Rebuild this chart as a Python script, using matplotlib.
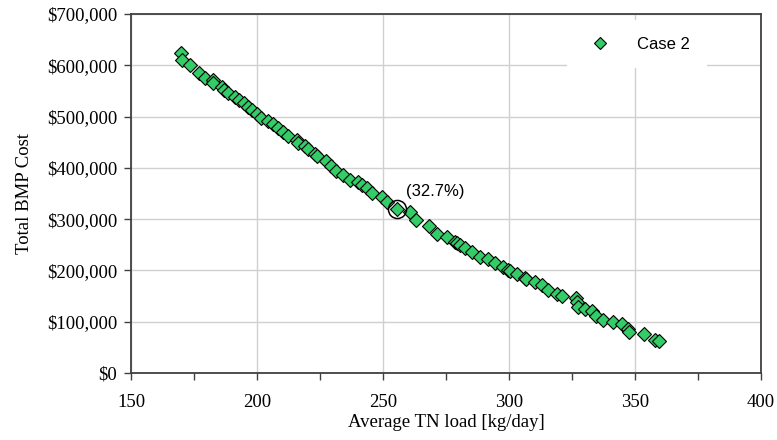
import numpy as np
from matplotlib import pyplot as plt
from matplotlib.ticker import FuncFormatter, MultipleLocator

# average TN load [kg/day] vs total BMP cost [$] for Case 2
tn_load = [169.8, 170.4, 173.4, 177.1, 179.4, 182.4, 182.5, 186.0, 186.9, 188.5,
           191.3, 193.0, 194.8, 196.5, 197.9, 200.1, 201.6, 204.5, 206.5, 208.5,
           210.2, 212.4, 215.7, 216.1, 219.0, 220.4, 223.0, 224.0, 227.3, 229.3,
           231.3, 234.2, 237.0, 240.2, 241.5, 243.5, 245.5, 249.5, 251.5, 255.4,
           260.7, 263.0, 268.3, 271.3, 275.3, 278.6, 279.4, 280.6, 282.5, 285.2,
           288.5, 291.8, 294.4, 297.7, 299.7, 300.5, 303.0, 306.3, 306.9, 310.3,
           313.0, 315.6, 318.9, 320.9, 326.5, 326.9, 327.3, 330.2, 332.8, 334.6,
           337.4, 341.4, 344.7, 347.3, 347.8, 353.6, 358.0, 359.5]
bmp_cost = [625, 611, 600, 586, 575, 571, 565, 558, 552, 546,
            539, 532, 527, 519, 513, 506, 498, 492, 485, 477,
            470, 462, 454, 448, 442, 436, 428, 424, 413, 403,
            394, 386, 376, 373, 366, 360, 351, 344, 334, 319,
            314, 298, 287, 272, 266, 256, 254, 250, 243, 236,
            227, 222, 214, 207, 201, 198, 194, 185, 183, 178,
            172, 162, 155, 150, 146, 139, 129, 124, 120, 112,
            104, 100, 95, 85, 80, 76, 65, 62]
bmp_cost = np.array(bmp_cost) * 1000

# highlighted solution
pick_load = 255.4
pick_cost = 319000
pick_label = '(32.7%)'

fig = plt.figure(figsize=(7.77, 4.40), dpi=100)
ax = fig.add_axes([0.1686, 0.1523, 0.8108, 0.8157])

ax.plot(tn_load, bmp_cost, linestyle='none', marker='D', markersize=7.5,
        markerfacecolor='#33CC66', markeredgecolor='black', markeredgewidth=0.8,
        label='Case 2', zorder=3)
ax.plot([pick_load], [pick_cost], linestyle='none', marker='o', markersize=13,
        markerfacecolor='none', markeredgecolor='black', markeredgewidth=1.1, zorder=4)
ax.annotate(pick_label, (pick_load, pick_cost), xytext=(7, 10), textcoords='offset points',
            fontsize=12, family='Liberation Sans')

ax.set_xlim(150, 400)
ax.set_ylim(0, 700000)
ax.set_xticks(np.arange(150, 401, 50))
ax.xaxis.set_minor_locator(MultipleLocator(25))
ax.set_yticks(np.arange(0, 700001, 100000))
ax.yaxis.set_major_formatter(FuncFormatter(lambda v, p: '${:,.0f}'.format(v)))

ax.grid(True, color='#D0D0D0', linewidth=1.0)
ax.set_axisbelow(True)
for s in ax.spines.values():
    s.set_color('#404040')
    s.set_linewidth(1.3)
ax.tick_params(which='both', direction='out', length=5, width=1, color='#404040')
ax.tick_params(labelsize=13.5, labelfontfamily='Liberation Serif')
ax.tick_params(axis='x', pad=10)
ax.tick_params(axis='y', pad=5)

ax.set_xlabel('Average TN load [kg/day]', fontsize=13.5, family='Liberation Serif', labelpad=2)
ax.set_ylabel('Total BMP Cost', fontsize=13.5, family='Liberation Serif', labelpad=10)

leg = ax.legend(loc='center', bbox_to_anchor=(0.803, 0.916), frameon=True,
                facecolor='white', edgecolor='none', framealpha=1, fancybox=False,
                prop={'family': 'Liberation Sans', 'size': 12},
                handletextpad=1.2, borderpad=1.0, markerscale=0.8)

fig.savefig('out.png', dpi=100)
